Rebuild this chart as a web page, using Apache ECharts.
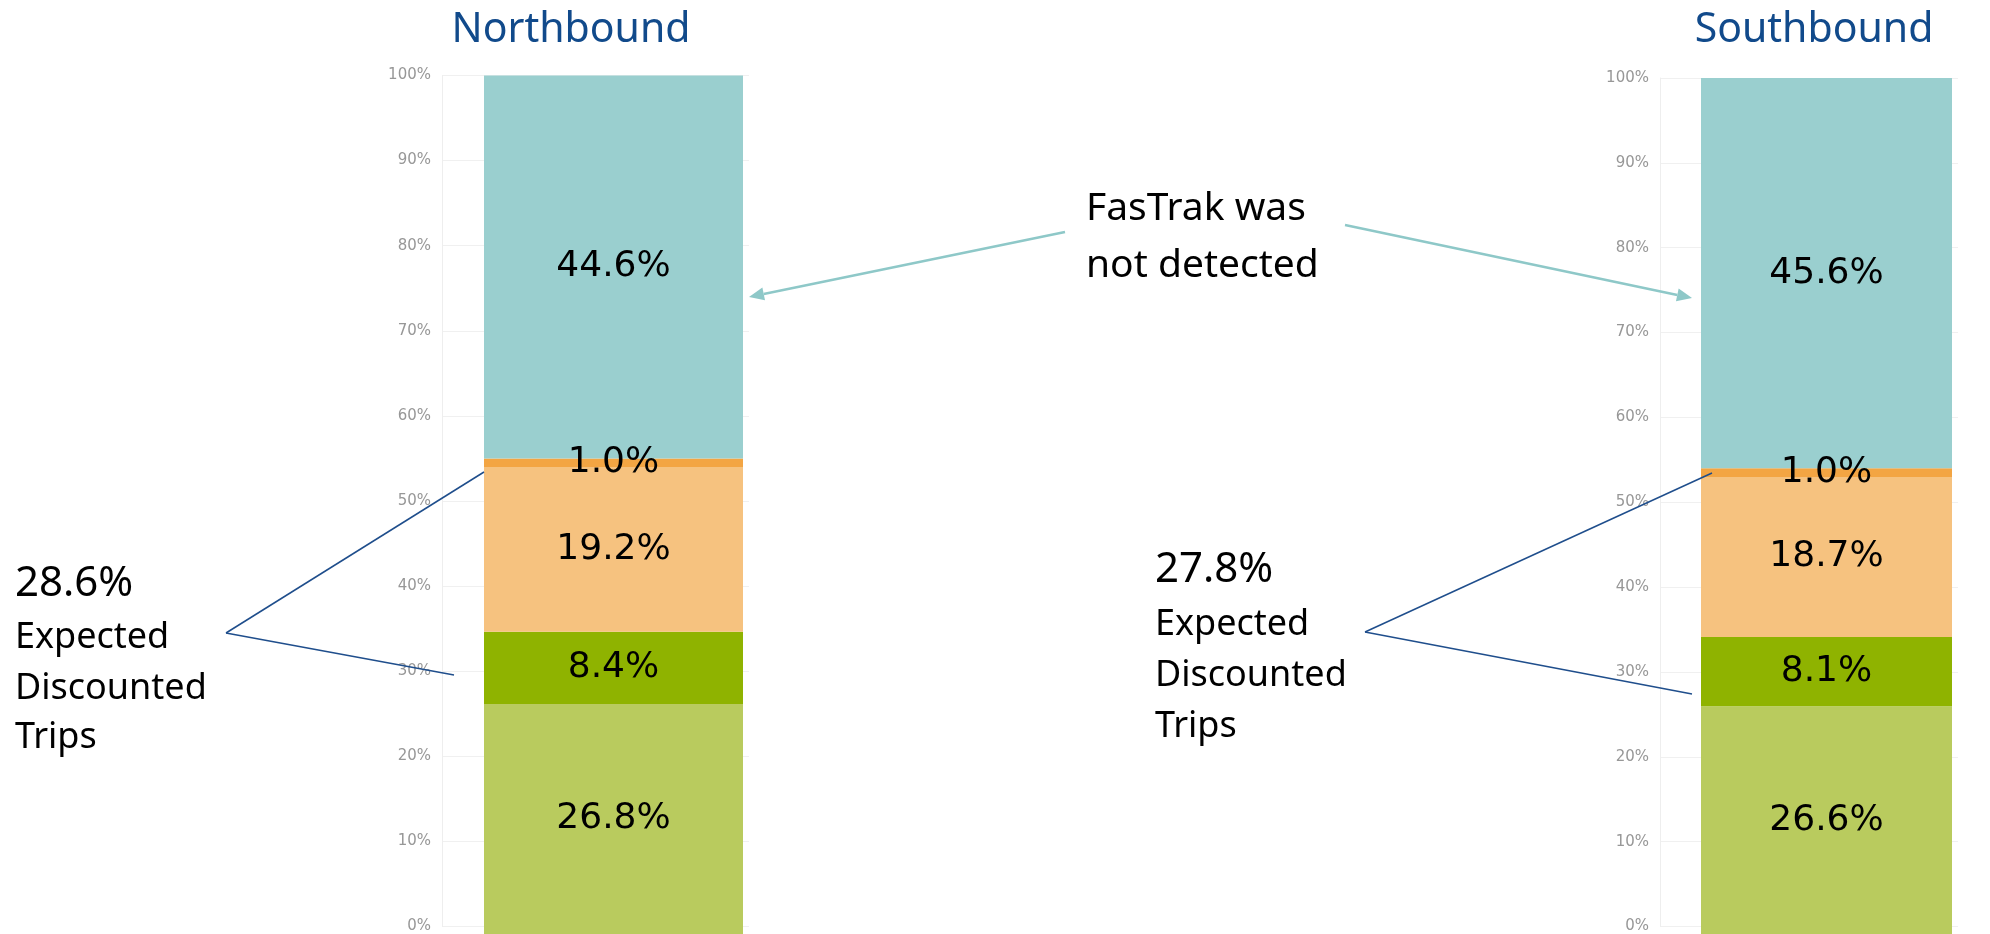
<!DOCTYPE html>
<html>
<head>
<meta charset="utf-8">
<script src="https://cdn.jsdelivr.net/npm/echarts@6/dist/echarts.min.js"></script>
<style>
  html, body { margin: 0; padding: 0; background: #ffffff; }
  #chart { width: 1990px; height: 934px; }
</style>
</head>
<body>
<div id="chart"></div>
<script>
// ---- data ----
const directions = ['Northbound', 'Southbound'];
const segmentNames = ['Discounted trips (A)', 'Discounted trips (B)', 'Other trips (A)', 'Other trips (B)', 'FasTrak was not detected'];
const northboundValues = [26.8, 8.4, 19.2, 1.0, 44.6];
const southboundValues = [26.6, 8.1, 18.7, 1.0, 45.6];
const expectedDiscounted = [28.6, 27.8];
const yTickMin = 0, yTickMax = 100, yTickStep = 10;

// ---- styles ----
const segmentColors = ['#B9CB5E', '#8FB300', '#F6C27F', '#F3A543', '#9ACFCF'];
const titleColor = '#114A8B';
const leaderColor = '#1F4E8C';
const arrowColor = '#8EC8C8';

const chart = echarts.init(document.getElementById('chart'), null, { renderer: 'canvas' });

// panel layout (pixels)
const panels = [
  { axisLeft: 442, axisWidth: 307, barLeft: 484, barWidth: 259, top: 75.5, height: 860 },
  { axisLeft: 1660, axisWidth: 298, barLeft: 1701, barWidth: 251, top: 78, height: 857 }
];
const seriesData = [northboundValues, southboundValues];

const grid = [], xAxis = [], yAxis = [], series = [];
panels.forEach((p, i) => {
  grid.push({ left: p.axisLeft, width: p.axisWidth, top: p.top, height: p.height, containLabel: false });
  grid.push({ left: p.barLeft, width: p.barWidth, top: p.top, height: p.height, containLabel: false });
  const gA = 2 * i, gB = 2 * i + 1;
  xAxis.push({ gridIndex: gA, type: 'category', data: [''], show: false });
  xAxis.push({ gridIndex: gB, type: 'category', data: [directions[i]], show: false });
  yAxis.push({
    gridIndex: gA, type: 'value', min: yTickMin, max: yTickMax, interval: yTickStep,
    axisLine: { show: true, lineStyle: { color: '#EEEEEE', width: 1 } },
    axisTick: { show: false },
    splitLine: { show: true, lineStyle: { color: '#F0F0F0', width: 1 } },
    axisLabel: { formatter: '{value}%', color: '#979797', fontSize: 15, fontFamily: 'DejaVu Sans', margin: 11 }
  });
  yAxis.push({ gridIndex: gB, type: 'value', min: yTickMin, max: yTickMax, show: false });
  segmentNames.forEach((name, k) => {
    series.push({
      type: 'bar',
      name: name,
      xAxisIndex: 2 * i + 1,
      yAxisIndex: 2 * i + 1,
      stack: 'dir' + i,
      barWidth: '100%',
      data: [seriesData[i][k]],
      itemStyle: { color: segmentColors[k] },
      label: {
        show: true,
        position: 'inside',
        formatter: (pr) => pr.value.toFixed(1) + '%',
        color: '#000000',
        fontSize: 36,
        fontFamily: 'DejaVu Sans'
      },
      z: 2
    });
  });
});

function txt(str, x, baseline, size, color, align, family) {
  const fam = family || 'Noto Sans';
  const k = fam === 'DejaVu Sans' ? 0.297 : 0.285;
  return {
    type: 'text', x: x, y: baseline - k * size, z: 100,
    style: { text: str, fill: color || '#000', font: size + 'px "' + fam + '"', align: align || 'left', verticalAlign: 'middle' }
  };
}
function line(x1, y1, x2, y2, color, w) {
  return { type: 'line', z: 90, shape: { x1, y1, x2, y2 }, style: { stroke: color, lineWidth: w } };
}
function arrow(x1, y1, x2, y2, color, w) {
  const dx = x2 - x1, dy = y2 - y1, L = Math.hypot(dx, dy);
  const ux = dx / L, uy = dy / L, hl = 15, hw = 6.5;
  const bx = x2 - ux * hl, by = y2 - uy * hl;
  return [
    line(x1, y1, bx, by, color, w),
    { type: 'polygon', z: 90, shape: { points: [[x2, y2], [bx - uy * hw, by + ux * hw], [bx + uy * hw, by - ux * hw]] }, style: { fill: color } }
  ];
}

const graphic = [
  txt(directions[0], 571, 42, 41, titleColor, 'center'),
  txt(directions[1], 1814, 42, 41, titleColor, 'center'),
  txt(expectedDiscounted[0].toFixed(1) + '%', 15, 596, 42),
  txt('Expected', 15, 648, 36),
  txt('Discounted', 15, 699, 36),
  txt('Trips', 15, 748, 36),
  line(226, 633, 484, 472, leaderColor, 1.5),
  line(226, 633, 454, 675, leaderColor, 1.5),
  txt(expectedDiscounted[1].toFixed(1) + '%', 1155, 582, 42),
  txt('Expected', 1155, 635, 36),
  txt('Discounted', 1155, 686, 36),
  txt('Trips', 1155, 737, 36),
  line(1365, 632, 1712, 473, leaderColor, 1.5),
  line(1365, 632, 1692, 694, leaderColor, 1.5),
  txt('FasTrak was', 1086, 220, 39),
  txt('not detected', 1086, 277, 39),
  ...arrow(1065, 232, 749, 297, arrowColor, 2.5),
  ...arrow(1345, 225, 1692, 298, arrowColor, 2.5)
];

chart.setOption({
  animation: false,
  backgroundColor: '#ffffff',
  grid, xAxis, yAxis, series, graphic
});
</script>
</body>
</html>
